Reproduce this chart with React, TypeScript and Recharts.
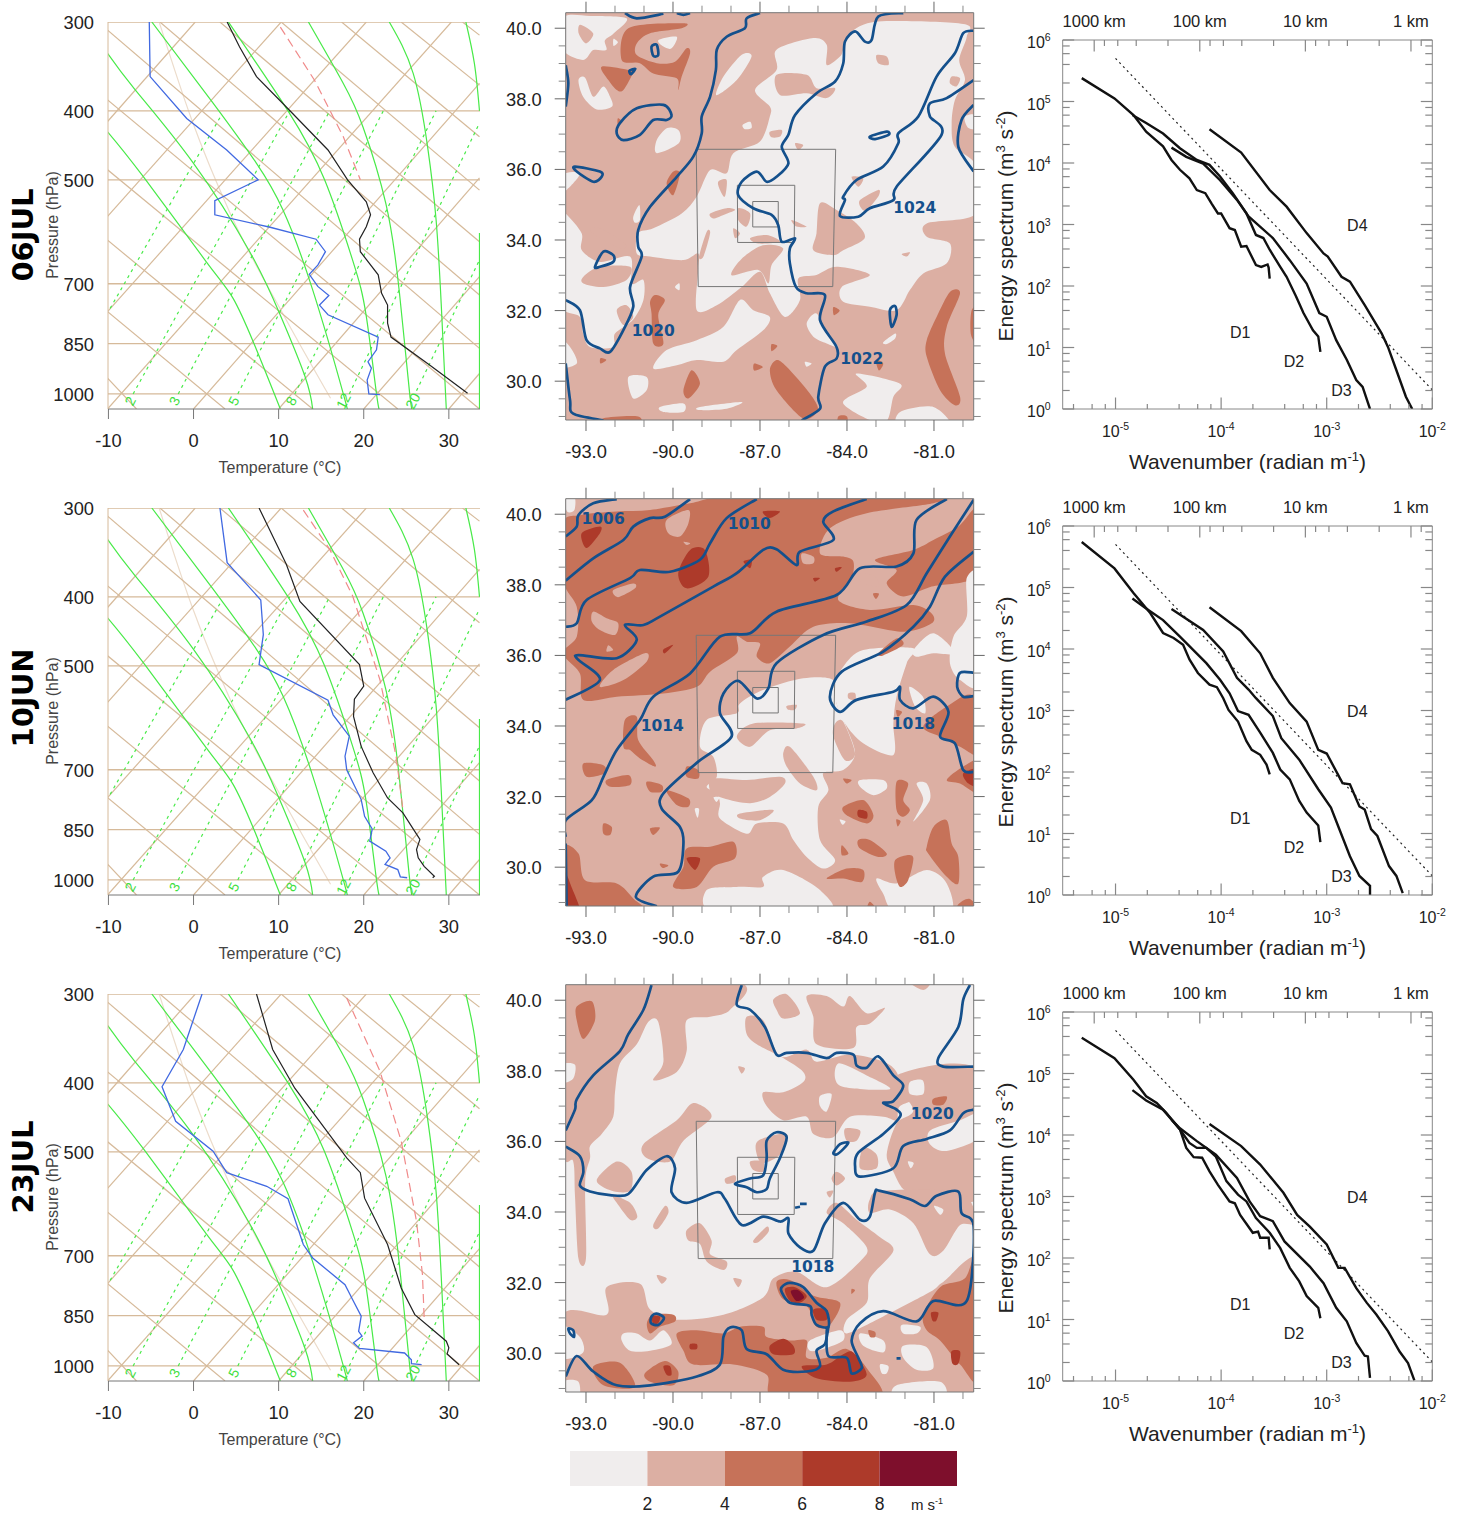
import React from 'react';
import { ComposedChart, Bar, Line, XAxis, YAxis, ReferenceDot } from 'recharts';

// ---------- sounding panels: flat [temperature, pressure, ...] lists ----------
const pressureLevels = [300, 400, 500, 700, 850, 1000];
const tempTicks = [-10, 0, 10, 20, 30];

const isotherms = [
  [-10.1, 414, 0.2, 300], [-10.1, 563, 10.3, 300], [-10.1, 766, 20.3, 300], [-10.1, 1050, 30.3, 300],
  [0, 1050, 33.6, 366], [10, 1050, 33.6, 497], [20, 1050, 33.6, 684], [30, 1050, 33.6, 936],
];
const dryAdiabats = [
  [-10.1, 950, -6.7, 1050], [-10.1, 766, 3.7, 1050], [-10.1, 608, 14, 1050], [-10.1, 484, 24, 1050],
  [-10.1, 386, 33.6, 1050], [-10.1, 308, 33.6, 863], [-3.95, 300, 33.6, 726], [3.1, 300, 33.6, 611],
  [10.3, 300, 33.6, 517], [17.4, 300, 33.6, 435], [24.4, 300, 33.6, 368], [31.6, 300, 33.6, 313],
];
const moistAdiabats = [
  [-10.1, 428, -5.9, 495, 1.5, 652, 4.65, 734, 7, 844, 10.2, 1050],
  [-10.1, 332, -6.9, 373, 0, 474, 6.6, 631, 10.1, 770, 13.1, 945, 14, 1050],
  [-4.9, 300, 2.3, 390, 7.4, 474, 10.5, 551, 14, 714, 17.6, 1000, 18, 1050],
  [4.1, 300, 11.1, 400, 15.4, 500, 18.7, 649, 20.3, 778, 21.5, 1000, 21.9, 1050],
  [13.5, 300, 17.6, 366, 19.9, 421, 22.6, 540, 24.2, 722, 25.4, 1000, 25.8, 1050],
  [23, 300, 25.8, 354, 27.5, 449, 28.5, 569, 29.1, 746, 29.7, 1050],
  [32, 300, 33, 343, 33.6, 400],
  [33.6, 594, 33.6, 1050],
];
const mixingRatios = [
  [-9.8, 758, 3.3, 405], [-7.1, 1000, 11.3, 400], [-1.8, 1000, 16, 400], [5.2, 1000, 22.3, 400],
  [11.9, 1000, 28.5, 400], [18.3, 1000, 33.6, 416], [26.2, 990, 33.6, 648],
];
const faintLine = [-4, 301, -0.2, 412, 4.3, 557, 10.9, 787, 16.1, 1014];
const mixingLabels = [['2', -7.3], ['3', -2.1], ['5', 4.85], ['8', 11.6], ['12', 17.75], ['20', 25.9]];

const jul06Temp = [3.95, 300, 5.4, 325, 7.4, 358, 10.9, 395, 15.8, 454, 18.1, 500, 20.3, 537, 20.8, 560, 20.3, 582, 19.5, 606, 19.6, 631, 21.7, 680, 22.1, 722, 22.8, 750, 22.8, 795, 23.1, 822, 23.2, 832, 27.7, 910, 32.2, 998];
const jul06Dew = [-5.2, 300, -5.1, 358, -0.8, 410, 3.9, 454, 7.6, 500, 2.5, 535, 2.5, 560, 9, 583, 14.4, 606, 15.5, 631, 14.6, 659, 13.6, 679, 14.6, 706, 15.9, 727, 14.8, 750, 15.8, 774, 21.7, 832, 21.5, 867, 20.5, 901, 20.9, 920, 20.4, 956, 20.6, 1000, 21.9, 1002];
const jul06Parcel = [10.2, 305, 14.2, 362, 17.6, 435, 19.6, 500];

const jun10Temp = [7.7, 300, 10.9, 360, 12.5, 406, 19.5, 498, 20, 534, 18.9, 557, 18.8, 589, 19.7, 649, 21.1, 707, 22.8, 767, 24.6, 805, 26.6, 877, 26.2, 906, 26.4, 931, 27.1, 957, 28.3, 988, 28.1, 993];
const jun10Dew = [3.1, 300, 3.95, 358, 7.9, 404, 8.2, 452, 7.7, 498, 15.8, 559, 16.4, 586, 18.3, 628, 17.8, 670, 18, 700, 19.7, 771, 20.1, 814, 21, 848, 20.7, 882, 22.6, 911, 23.1, 931, 22.5, 951, 24, 967, 24.3, 990, 25.1, 993];
const jun10Parcel = [12.9, 302, 16, 343, 18.7, 399, 21.9, 523, 23.8, 670, 24.6, 796];

const jul23Temp = [7.4, 300, 9.3, 359, 11.9, 407, 18, 510, 19.6, 535, 20.1, 581, 22.8, 675, 24.4, 777, 26, 847, 29.7, 923, 30, 943, 29.8, 962, 31.2, 996];
const jul23Dew = [1, 300, -1.2, 359, -3.7, 405, -2.1, 453, 2.3, 499, 3.9, 535, 8.6, 559, 11.1, 582, 12.9, 675, 14, 705, 17.8, 769, 18.7, 807, 19.7, 851, 19.4, 894, 19.8, 908, 18.8, 928, 19.5, 945, 24.8, 959, 25.6, 980, 25.6, 993, 26.8, 996];
const jul23Parcel = [18, 304, 18.9, 321, 21.9, 385, 24.4, 483, 26.2, 626, 26.9, 744, 27.1, 856];

// ---------- map panels: flat [deg west, deg north, ...] lists ----------
const lonTicks = [-93, -92, -91, -90, -89, -88, -87, -86, -85, -84, -83, -82, -81, -80];
const lonMajor = [-93, -90, -87, -84, -81];
const latTicks = [29, 29.5, 30, 30.5, 31, 31.5, 32, 32.5, 33, 33.5, 34, 34.5, 35, 35.5, 36, 36.5, 37, 37.5, 38, 38.5, 39, 39.5, 40];
const latMajor = [30, 32, 34, 36, 38, 40];
const mapExtent = [94, 41, 79, 41, 79, 28, 94, 28];
const nestBoxes = [
  [89.2, 36.57, 84.39, 36.57, 84.49, 32.68, 89.13, 32.68],
  [87.78, 35.55, 85.8, 35.55, 85.82, 33.93, 87.77, 33.93],
  [87.25, 35.09, 86.37, 35.09, 86.37, 34.37, 87.25, 34.37],
];
const WHITE = '#f0eded';
const PINK = '#dcafa3';
const MID = '#c67259';
const STRONG = '#ad3a2a';
const TOP = '#7e0f2c';

const jul06White = [
  [84.13, 39.39, 83.9, 39.86, 82.92, 40.19, 79.99, 40.12, 79.87, 39.76, 80.13, 39.1, 79.93, 38.53, 80.28, 37.96, 80.39, 37.3, 80.28, 36.64, 79.53, 36.08, 79.53, 34.75, 81.25, 34.47, 81.25, 34.09, 80.45, 33.9, 80.56, 33.34, 81.37, 33.05, 81.83, 32.58, 82.29, 32.01, 83.21, 32.11, 84.13, 32.25, 84.18, 32.67, 83.21, 33.01, 84.36, 33.24, 85.05, 33.01, 85.68, 32.91, 85.62, 32.3, 86.14, 31.82, 86.66, 32.49, 87, 33.1, 87.63, 32.67, 88.49, 32.15, 89.18, 32.01, 89.13, 33.15, 89.13, 33.62, 89.64, 33.43, 90.79, 33.53, 91.25, 33.62, 91.2, 34.19, 90.68, 34.33, 89.7, 34.75, 89.18, 35.23, 88.72, 35.98, 88.15, 35.89, 87.92, 36.46, 87, 36.79, 86.66, 37.5, 86.66, 37.78, 87.17, 38.25, 86.43, 38.82, 86.43, 39.39, 85.16, 39.72, 84.7, 39.53, 84.7, 38.96, 84.24, 39.2],
  [93.7, 34.75, 93.15, 34.19, 93.15, 33.72, 92.52, 33.38, 91.48, 33.53, 91.43, 32.77, 91.02, 32.87, 91.02, 32.3, 91.37, 31.75, 92, 31.35, 92.06, 30.97, 92.86, 30.97, 93.1, 31.35, 93.21, 31.82, 94, 32.3, 94, 34.9],
  [93.8, 40.3, 92.85, 40.35, 91.6, 40.28, 92.05, 39.85, 92.35, 39.65, 92.3, 39.38, 92.75, 39.38, 93.1, 39.1, 93.8, 39.4],
  [92.05, 39.7, 91.9, 39.6, 92.05, 39.5],
  [90.5, 39.67, 89.87, 39.76, 90.05, 39.43, 90.33, 39.48],
  [93.26, 38.53, 93.03, 38.6, 92.75, 38.06, 92.4, 38.35, 92.17, 38.06, 92.1, 37.78, 92.63, 37.7, 93.1, 38.06],
  [87.63, 39.25, 87.29, 39.2, 87.8, 38.53, 88.5, 38.1, 88.26, 38.63],
  [90.2, 37.17, 89.8, 37.1, 89.8, 36.74, 90.56, 36.46, 90.56, 36.83],
  [87.6, 37.26, 87.34, 37.35, 87.29, 37.17, 87.52, 37.14],
  [93.8, 35.85, 93.2, 35.88, 93.8, 35.35],
  [79.93, 37.5, 79.4, 37.55, 79.4, 37.17, 79.81, 37.17],
  [91.37, 34.66, 91.16, 34.99, 91.14, 34.57, 91.31, 34.49],
  [89.93, 32.67, 89.78, 32.77, 89.78, 32.58],
  [94, 31.25, 93.55, 30.97, 93.32, 30.5, 94, 30.41],
  [90.68, 30.36, 90.22, 30.88, 89.18, 31.16, 88.26, 31.54, 87.69, 32.3, 87.23, 32.01, 86.66, 31.82, 86.89, 31.44, 87.8, 30.88, 88.26, 30.55, 89.18, 30.6, 89.87, 30.45],
  [85.05, 31.92, 84.7, 31.35, 84.3, 30.97, 84.7, 31.07, 85.16, 31.26, 85.39, 31.64],
  [82.75, 31.1, 82.34, 31.35, 82.34, 31.21, 82.63, 31.05],
  [83.67, 30.22, 82.17, 29.93, 82.4, 29.56, 82.75, 28.8, 84.13, 29.37, 83.32, 29.84],
  [82.17, 29.13, 81.02, 29.27, 80.45, 28.7, 82.17, 28.7],
  [91.54, 30.12, 90.91, 30.12, 90.91, 29.74, 91.37, 29.51],
  [90.45, 29.27, 89.64, 29.37, 89.64, 29.13, 90.33, 29.13],
  [89.07, 29.27, 87.63, 29.41, 88.15, 29.22, 89.07, 29.18],
  [85.45, 30.55, 85.22, 30.5, 85.39, 30.41],
];
const jul06Pink = [
  [93.2, 40.1, 92.75, 39.85, 93, 39.57, 93.25, 39.85],
  [86.43, 38.68, 85.39, 38.68, 85.05, 38.3, 84.41, 38.3, 84.7, 38.02, 85.39, 38.16, 86.31, 38.11],
  [84.93, 35.04, 84.36, 34.85, 83.67, 34.47, 83.39, 34.05, 84.13, 33.71, 84.47, 33.57, 85.16, 33.71, 85.05, 34.19],
  [82.98, 39.24, 82.63, 39.2, 82.57, 38.96, 82.92, 39.01],
  [80.39, 38.63, 80.1, 38.58, 80.22, 38.35, 80.45, 38.44],
  [83.84, 35.79, 83.44, 35.75, 83.61, 35.51],
  [83.55, 35.13, 82.92, 35.42, 82.92, 35.23, 83.32, 34.85, 83.5, 34.89],
  [82.11, 33.6, 81.83, 33.65, 81.94, 33.53],
  [86.66, 37.07, 86.25, 37.12, 86.31, 36.93, 86.6, 36.91],
  [85.79, 36.74, 85.51, 36.69, 85.68, 36.55],
  [88.72, 34.75, 88.15, 34.9, 87.86, 34.85, 88.26, 34.71, 88.61, 34.61],
  [88.44, 35.65, 88.15, 35.7, 88.21, 35.23, 88.38, 35.42],
  [87.92, 34.33, 87.69, 34.19, 87.86, 34.05],
  [87.34, 34.05, 86.77, 34.14, 86.31, 33.95, 87.06, 33.9],
  [85.91, 34.57, 85.39, 34.38, 85.74, 34.38],
  [88.84, 34.23, 88.72, 34.19, 88.95, 33.53, 89.1, 33.53],
  [87.75, 34.9, 87.34, 34.75, 87.46, 34.38, 87.75, 34.57],
  [87.98, 33, 87.63, 33.47, 86.9, 33.85, 86.2, 33.76, 86.6, 33.29, 86.71, 32.77, 87.06, 33.15],
  [92.86, 34.28, 92.52, 34.33, 91.66, 33.9, 91.77, 33.76, 92.52, 34.05],
  [93.09, 32.96, 92.52, 33.24, 91.48, 33.24, 91.6, 32.87, 92.4, 32.67, 93.09, 32.77],
  [91.94, 32.01, 91.6, 32.15, 91.37, 31.82, 91.71, 31.59],
];
const jul06Mid = [
  [91.54, 40, 89.64, 40.14, 89.7, 40, 90.79, 39.86, 91.25, 39.57, 91.25, 39.24, 90.56, 39.01, 89.93, 39.05, 89.53, 39.43, 89.41, 39.29, 89.7, 38.63, 89.82, 38.25, 89.87, 38.58, 90.68, 38.72, 91.14, 39.01, 91.77, 39.1],
  [92.46, 38.91, 91.54, 38.82, 91.37, 38.77, 91.71, 38.25, 91.94, 38.25, 92.23, 38.53],
  [80.45, 32.53, 80.1, 32.49, 80.56, 31.54, 80.62, 30.78, 80.1, 29.56, 80.28, 29.32, 80.79, 29.74, 81.25, 30.69, 81.25, 31.16, 80.91, 31.82],
  [86.43, 30.6, 86.08, 30.41, 85.28, 29.65, 85, 29.18, 85.51, 28.94, 86.43, 29.74, 86.66, 30.31],
  [90.62, 32.44, 90.28, 32.3, 90.51, 31.87, 90.33, 31.07, 90.68, 31.07, 90.74, 31.92, 90.79, 32.25],
  [89.36, 30.31, 89.07, 29.93, 89.47, 29.51, 89.64, 29.74],
  [79.7, 32.01, 79.4, 32.05, 79.4, 31, 79.72, 31.3],
  [89.99, 35.94, 89.76, 35.89, 89.99, 35.27, 90.22, 35.6],
  [84.47, 32.1, 84.25, 32, 84.45, 31.87],
  [86.6, 31.05, 86.4, 31, 86.6, 30.85],
  [87.2, 30.5, 86.9, 30.4, 87.2, 30.3],
  [83, 30.6, 82.75, 30.5, 82.9, 30.3],
  [92.5, 30.65, 92.3, 30.6, 92.5, 30.5],
  [84.3, 29, 84, 29, 84, 28.7, 84.3, 28.7],
  [91.9, 37.45, 91.75, 37.35, 91.9, 37.25],
  [92.4, 28.95, 91.2, 29, 91.2, 28.7, 92.4, 28.7],
];
const jul06Lines = [
  [87, 40.43, 87.46, 40.28, 87.52, 40, 88.15, 39.76, 88.49, 39.39, 88.52, 38.82, 88.72, 38.06, 89.01, 37.5, 89.01, 37.02, 89.3, 36.36, 89.87, 35.79, 90.79, 34.94, 91.2, 34.28, 91.2, 33.81, 91.08, 33.53, 91.48, 32.67, 91.37, 32.11, 91.71, 31.45, 92.17, 30.83, 92.52, 30.93, 92.98, 31.16, 93.21, 32.01, 93.7, 32.3],
  [93.7, 38.95, 93.61, 38.44, 93.7, 37.78],
  [91.66, 40.43, 91.25, 40.28, 90.33, 40.41],
  [89.87, 40.43, 89.64, 40.38, 89.41, 40.43],
  [82.06, 40.43, 82.92, 40.33, 83.15, 39.67, 83.38, 39.62, 83.72, 39.91, 84.07, 39.62, 84.13, 39, 84.41, 38.49, 85.05, 38.16, 85.79, 37.54, 86.02, 36.98, 86.25, 36.64, 86.02, 36.17, 86.43, 35.79, 86.77, 35.65, 87.11, 35.94, 87.63, 35.65, 87.75, 35.27, 87.23, 34.9, 86.6, 34.71, 86.37, 34.42, 86.25, 33.95, 85.79, 34.05, 85.97, 33.76, 85.97, 33.34, 85.76, 32.67, 85.39, 32.49, 84.76, 32.44, 84.93, 31.73, 84.36, 30.97, 84.36, 30.64, 84.76, 30.41, 84.99, 29.56, 84.93, 29.22, 85.56, 28.89],
  [93.7, 30.5, 93.55, 29.46, 93.44, 29.08, 92.4, 28.89],
  [79.63, 38.53, 80.56, 38.02, 81.14, 37.87, 81.14, 37.5, 80.74, 36.98, 82.29, 35.51, 82.4, 35.13, 83.21, 34.9, 83.61, 34.66, 84.24, 34.68, 84.07, 35.13, 84.13, 35.23, 83.67, 35.7, 82.75, 36.08, 82.23, 36.74, 82.23, 37.02, 81.54, 37.5, 80.91, 38.63, 80.28, 39.29, 79.99, 39.86, 79.63, 39.93],
  [79.63, 37.83, 80.05, 37.4, 80.16, 36.64, 79.63, 35.94],
];
const jul06Loops = [
  [91.94, 37.02, 91.83, 37.31, 91.25, 37.73, 90.33, 37.83, 90.05, 37.54, 90.22, 37.4, 90.68, 37.4, 91.14, 36.98, 91.71, 36.83],
  [93.38, 36.08, 92.52, 35.94, 92.46, 35.79, 92.75, 35.65, 93.32, 35.94],
  [92.69, 33.24, 92.4, 33.67, 92.06, 33.57, 92.06, 33.38, 92.52, 33.24],
  [90.74, 39.48, 90.56, 39.53, 90.51, 39.24, 90.68, 39.22],
  [91.5, 38.8, 91.3, 38.85, 91.45, 38.7],
  [83.21, 36.93, 82.63, 37.07, 82.57, 36.98, 83.03, 36.86],
  [82.52, 32.01, 82.34, 32.13, 82.29, 31.87, 82.46, 31.54],
];
const jul06Labels = [['1020', 90.68, 31.43], ['1022', 83.49, 30.64], ['1024', 81.66, 34.91]];

const jun10MidBand = [
  [93.8, 39.74, 93.21, 39.98, 91.94, 40.08, 90.79, 40.12, 89.41, 40.31, 87.8, 40.5, 81.02, 40.5, 81.02, 40.31, 83.32, 40.03, 84.59, 39.6, 84.93, 38.89, 84.13, 38.8, 83.78, 38.66, 83.84, 38.19, 84.3, 37.57, 83.21, 37.29, 81.71, 37.43, 81.08, 37.19, 81.08, 36.91, 82.06, 36.67, 83.9, 36.91, 85.16, 36.81, 85.97, 36.25, 86.66, 35.78, 87.11, 35.96, 87, 36.34, 87.46, 36.39, 87.8, 36.53, 87.8, 36.06, 88.72, 35.54, 89.18, 35.11, 90.33, 34.92, 91.94, 34.83, 93.09, 34.74, 93.21, 35.49, 93.8, 36.06, 93.32, 36.53, 93.32, 37.38, 93.8, 38.14],
  [83.03, 38.71, 81.71, 38.99, 81.02, 39.27, 80.16, 39.65, 79.4, 40.22, 79.4, 38.33, 81.08, 37.95, 82.06, 37.67, 82.63, 38.04, 82.29, 38.42],
  [80.56, 34.55, 79.63, 34.83, 79.4, 33.22, 80.1, 33.41, 80.79, 33.7, 81.37, 33.98],
  [80.56, 32.47, 79.99, 32.85, 79.4, 33.03, 79.4, 32.09, 80.1, 32.37],
];
const jun10PinkOnMid = [
  [92.75, 37.24, 92.29, 37.05, 91.89, 36.91, 92, 36.58, 92.52, 36.72, 92.8, 36.96],
  [92.06, 37.85, 91.37, 38.04, 91.31, 37.9, 91.89, 37.65],
  [90.22, 39.84, 89.47, 40.12, 89.47, 39.74, 89.76, 39.37, 90.16, 39.46],
  [92.52, 35.11, 92.06, 35.59, 90.97, 36.06, 90.91, 35.82, 91.71, 35.3],
  [89.64, 39.22, 89.41, 39.18, 89.53, 39.13],
  [85.56, 38.89, 85.16, 38.8, 85.16, 38.61, 85.51, 38.61],
  [83.55, 38.33, 83.03, 38.23, 82.92, 37.95, 83.55, 38.09],
  [92.23, 36.29, 92.06, 36.15, 92.29, 36.11],
];
const jun10White = [
  [93.8, 40.5, 93.4, 40.5, 93.4, 40.12, 93.65, 40.08],
  [80.33, 36.53, 79.87, 37.1, 79.87, 38.19, 79.4, 38.19, 79.4, 35.26, 80.1, 35.3, 80.45, 35.78],
  [81.71, 36.15, 81.02, 36.63, 80.27, 36.06, 81.02, 36.06, 81.6, 35.96],
  [81.85, 35.11, 81.38, 34.83, 81.3, 34.36, 81.65, 34.55],
  [84.36, 34.64, 84.47, 35.11, 84.13, 35.68, 83.44, 36.15, 81.71, 36.2, 81.94, 35.78, 82.29, 34.83, 82.4, 34.07, 82.4, 33.18, 83.44, 33.51, 84.07, 34.07],
  [89.07, 33.41, 88.84, 34.17, 87.8, 34.36, 87.69, 34.64, 86.9, 35.02, 85.51, 35.35, 84.47, 35.3, 84.36, 34.64, 84.07, 34.07, 83.72, 33.22, 84.13, 32.75, 84.82, 32.66, 84.64, 32.18, 84.99, 31.71, 84.93, 30.77, 84.41, 30.2, 84.82, 29.96, 85.39, 30.29, 85.85, 30.77, 86.2, 31.24, 87.11, 31.24, 87.46, 30.95, 88.38, 31.38, 88.38, 31.81, 88.49, 32.09, 88.84, 32.28, 88.49, 32.56, 88.61, 33.13],
  [86.9, 29.72, 86.2, 29.92, 84.93, 29.35, 84.7, 28.7, 88.55, 28.7, 88.84, 29.35, 87.8, 29.44, 86.9, 29.44],
  [82.98, 29.68, 82.29, 29.54, 81.25, 29.92, 80.56, 29.54, 80.45, 28.7, 82.29, 28.7, 82.75, 29.25],
  [83.55, 32.47, 82.75, 32.47, 82.63, 32.23, 83.09, 32.04, 83.55, 32.28],
  [81.6, 32.37, 81.25, 32.37, 81.14, 31.9, 81.71, 31.29, 81.37, 31.9],
  [88.6, 31.98, 88.4, 31.98, 88.5, 31.85],
  [89.25, 31.65, 89.1, 31.65, 89.15, 31.4],
  [84.25, 31.35, 84.05, 31.3, 84.15, 31.2],
];
const jun10PinkOnWhite = [
  [87.8, 33.7, 87.23, 34.07, 85.51, 34.07, 85.74, 33.93, 86.66, 33.88, 87.34, 33.41],
  [86.2, 33.22, 85.97, 33.41, 85.16, 32.56, 85.05, 32.18, 85.62, 32.37, 86.08, 32.85],
  [88.61, 32.51, 87.46, 32.47, 86.31, 32.56, 86.14, 32.37, 86.66, 31.99, 87.34, 31.81, 88.26, 31.95, 88.72, 32.18],
  [87.69, 31.52, 86.54, 31.62, 87, 31.33, 87.69, 31.38],
  [84.41, 34.07, 84.13, 34.12, 83.72, 33.22, 84.07, 33.03, 84.47, 33.7],
  [83.95, 34.93, 83.72, 34.93, 83.72, 34.74, 83.95, 34.78],
  [86.08, 34.57, 85.74, 34.6, 85.8, 34.46, 86.02, 34.46],
];
const jun10Mid = [
  [93.09, 32.94, 92.4, 32.89, 92.34, 32.66, 92.98, 32.56],
  [92.29, 32.47, 91.54, 32.61, 91.48, 32.33, 92.17, 32.28],
  [90.91, 32.42, 90.39, 32.33, 90.39, 32.14, 90.79, 32.14],
  [90.22, 32.18, 89.47, 31.95, 89.47, 31.71, 89.87, 31.76],
  [92.4, 31.24, 92.11, 31.14, 92.17, 30.91, 92.4, 30.95],
  [90.79, 31.1, 90.45, 31.12, 90.68, 30.91],
  [91.66, 34.17, 91.25, 34.26, 91.2, 33.6, 90.68, 33.03, 90.62, 32.85, 91.14, 33.08, 91.48, 33.32, 91.71, 33.41],
  [89.53, 32.85, 89.13, 32.75, 89.13, 32.51, 89.53, 32.56],
  [89.53, 30.53, 88.72, 30.58, 87.92, 30.72, 87.86, 30.25, 88.61, 30.01, 89.18, 29.44, 89.99, 29.44, 89.64, 30.01],
  [93.8, 30.53, 93.26, 30.39, 93.03, 29.63, 91.94, 29.54, 91.37, 29.11, 91.02, 28.7, 93.8, 28.7],
  [84.13, 31.71, 83.44, 31.9, 83.09, 31.47, 83.32, 31.24, 84.01, 31.47],
  [82.29, 32.42, 81.89, 32.37, 82.06, 31.9, 81.83, 31.62, 82.06, 31.43, 82.29, 31.62],
  [81.25, 30.58, 81.02, 31.14, 80.56, 31.33, 80.39, 30.67, 80.16, 30.29, 80.16, 29.54, 80.56, 29.73, 81.2, 30.39],
  [83.61, 30.77, 83.21, 30.77, 82.63, 30.39, 82.92, 30.29, 83.55, 30.53],
  [82.34, 30.2, 81.94, 30.34, 81.71, 30.25, 81.89, 29.63, 82.17, 29.44, 82.34, 29.82],
  [84.7, 29.68, 84.01, 29.96, 83.44, 29.92, 83.49, 29.58, 84.13, 29.68],
  [84.18, 30.62, 83.95, 30.39, 84.18, 30.34],
  [82.3, 31.35, 82.15, 31.3, 82.25, 31.15],
  [84.13, 32.51, 83.84, 32.47, 84.01, 32.37],
  [80.16, 28.95, 79.76, 29.1, 79.4, 28.7, 80.16, 28.7],
  [83.32, 28.7, 83.21, 29.02, 82.92, 28.7],
  [90.45, 30.1, 90.16, 30.05, 90.35, 29.98],
  [82.92, 36.06, 82.29, 36.48, 82.06, 36.3, 82.75, 36],
  [82.3, 34.45, 82.1, 34.4, 82.25, 34.26],
  [83.1, 37.75, 82.9, 37.75, 83, 37.6],
];
const jun10Strong = [
  [93.15, 39.46, 92.52, 39.65, 92.52, 39.46, 92.98, 39.04],
  [89.82, 38.33, 89.41, 38.99, 88.9, 38.99, 88.78, 38.23, 89.53, 37.9],
  [87.57, 38.66, 87.29, 38.71, 87.34, 38.47],
  [86.9, 40.08, 86.31, 40.08, 86.66, 39.89],
  [85.16, 38.19, 84.93, 38.19, 85.1, 38.09],
  [84.41, 38.47, 84.18, 38.5, 84.36, 38.37],
  [90.33, 36.17, 89.99, 36.3, 90.28, 36.06],
  [89.53, 30.25, 89.07, 30.25, 89.24, 29.92],
  [93.8, 29.92, 93.5, 29.44, 93.2, 28.7, 93.8, 28.7],
  [79.99, 32.66, 79.4, 32.8, 79.4, 32.28, 79.81, 32.37],
  [83.61, 31.62, 83.32, 31.57, 83.32, 31.38, 83.61, 31.43],
];
const jun10Lines = [
  [93.7, 39.37, 93.32, 39.65, 93.26, 39.98, 92.75, 40.31, 91.94, 40.43],
  [93.7, 38.12, 92.75, 38.75, 91.71, 39.27, 91.37, 39.65, 90.79, 39.89, 90.28, 39.93, 89.41, 40.43],
  [93.7, 36.81, 93.32, 36.91, 92.98, 37.57, 91.48, 38.19, 91.14, 38.42, 90.1, 38.37, 89.07, 38.71, 88.72, 39.18, 88.15, 39.89, 87.11, 40.43],
  [93.7, 34.74, 92.52, 35.3, 93.26, 35.87, 93.26, 36.01, 91.94, 35.92, 91.25, 36.44, 91.66, 36.86, 91.02, 36.86, 90.45, 37.1, 88.61, 37.95, 87.8, 38.33, 86.89, 38.99, 86.43, 39.01, 85.74, 38.56, 85.62, 38.94, 84.47, 39.27, 84.82, 39.79, 84.47, 40.08, 83.32, 40.43],
  [93.7, 30.86, 93.7, 31.33, 92.8, 31.9, 92.4, 32.56, 91.94, 33.32, 91.14, 34.17, 90.68, 34.83, 89.41, 35.49, 88.38, 36.53, 87.34, 36.63, 86.43, 37.24, 84.36, 37.71, 83.55, 38.47, 82.29, 38.52, 81.71, 38.89, 81.6, 39.84, 80.56, 40.43],
  [90.56, 28.89, 91.28, 29.16, 90.68, 29.73, 89.82, 29.87, 89.64, 30.67, 89.76, 31.14, 90.39, 31.66, 90.33, 32.09, 89.13, 32.99, 87.98, 33.7, 88.38, 34.36, 88.26, 34.92, 87.75, 35.28, 87.11, 34.78, 86.71, 35.07, 86.43, 35.78, 84.82, 36.58, 83.32, 36.96, 81.94, 37.43, 81.25, 38.33, 80.45, 39.37, 79.63, 40.41],
  [79.63, 32.7, 79.99, 32.75, 80.28, 33.51, 80.79, 33.7, 80.5, 34.4, 81.02, 34.83, 81.71, 34.5, 82.17, 34.74, 82.17, 35.11, 82.4, 34.97, 83.67, 34.74, 84.24, 34.4, 84.59, 34.83, 84.18, 35.54, 82.75, 36.11, 81.71, 36.81, 81.14, 37.38, 80.62, 38.23, 79.63, 38.94],
  [79.63, 35.51, 80.1, 35.51, 80.2, 35.11, 79.99, 34.83, 79.63, 34.85],
  [93.7, 30.67, 93.67, 28.89],
];
const jun10Labels = [['1006', 92.41, 39.87], ['1010', 87.37, 39.72], ['1014', 90.37, 34], ['1018', 81.71, 34.07]];

const jul23Pink = [
  [93.8, 40.51, 87.8, 40.51, 88.03, 39.73, 88.72, 39.53, 89.53, 39.43, 89.53, 38.56, 89.87, 37.97, 90.68, 37.73, 90.33, 38.26, 90.51, 39.39, 90.85, 39.39, 91.25, 38.75, 91.83, 38.21, 92, 37.39, 92.06, 36.7, 92.46, 36.21, 92.86, 35.87, 92.86, 35.53, 93.03, 34.85, 93, 32.7, 93.26, 32.68, 93.38, 34.46, 93.44, 35.43, 93.8, 35.82],
  [92.63, 34.9, 91.94, 35.43, 91.43, 35.14, 91.48, 34.6, 92.11, 34.6],
  [92.06, 34.46, 91.48, 34.26, 91.23, 33.87, 91.48, 33.78, 91.94, 34.26],
  [91.02, 35.92, 89.87, 36.6, 89.3, 37.09, 88.67, 36.7, 89.64, 36.02, 90.1, 35.43, 90.91, 35.53],
  [87.46, 39.53, 86.89, 39.43, 86.31, 38.41, 85.39, 38.6, 85.05, 38.26, 83.9, 38.46, 82.75, 38.26, 82.29, 37.97, 82.06, 37.39, 81.37, 37.29, 82.17, 37, 82.29, 36.6, 82.75, 36.7, 83.9, 36.7, 84.47, 36.12, 85.16, 36.21, 85.39, 36.7, 86.2, 36.6, 86.77, 37, 86.89, 37.39, 86.2, 37.39, 85.51, 37.68, 85.51, 37.97, 86.2, 38.36, 87.11, 38.75, 87.46, 39.04],
  [86.54, 40.02, 86.08, 40.17, 85.62, 39.63, 86.2, 39.48, 86.43, 39.73],
  [85.39, 40.12, 84.7, 40.12, 84.13, 39.82, 83.9, 40.12, 83.32, 39.63, 82.69, 39.78, 83.21, 39.34, 83.67, 39.24, 83.78, 38.65, 85.05, 38.75, 85.16, 39.53],
  [81.83, 40.51, 81.14, 40.51, 81.37, 40.29],
  [82.29, 37.87, 79.4, 37.97, 79.4, 34.46, 81.6, 34.6, 82.06, 34.65, 82.4, 35.14, 82.63, 35.63, 82.29, 36.51, 81.71, 36.9],
  [82.75, 34.6, 80.1, 34.56, 79.53, 33.68, 80.1, 33.63, 80.68, 32.9, 81.14, 32.8, 81.71, 33.68, 82.52, 34.07, 83.21, 33.97, 83.21, 34.36],
  [93.8, 28.7, 93.8, 31.09, 92.29, 31.09, 92.29, 31.87, 91.14, 31.97, 90.79, 31.24, 89.87, 30.95, 88.26, 31.09, 86.89, 31.58, 86.54, 32.12, 85.74, 32.31, 84.7, 31.87, 83.55, 32.6, 83.32, 33, 84.13, 33.68, 84.7, 33.97, 84.36, 34.26, 83.67, 33.78, 82.87, 33.29, 82.4, 32.9, 83.21, 32.12, 83.32, 31.43, 84.01, 30.95, 84.01, 30.56, 82.75, 31.04, 81.14, 31.73, 80.68, 32.02, 79.4, 32.6, 79.4, 28.7],
  [90.56, 32.21, 90.22, 32.12, 90.39, 31.97],
  [87.92, 32.12, 87.63, 32.07, 87.75, 31.87],
  [87.23, 33.19, 86.77, 33.58, 86.71, 33.43, 87.06, 33.14],
  [90.68, 33.63, 90.28, 34.17, 90.16, 33.97, 90.51, 33.53],
  [89.53, 33.48, 89.07, 33.68, 88.67, 33.19, 88.72, 32.8, 88.15, 32.6, 88.26, 32.36, 88.84, 32.6, 89.07, 33.09, 89.47, 33.19],
  [84.36, 35.14, 84.07, 34.95, 84.36, 34.75, 84.53, 34.95],
  [88.2, 34.95, 87.86, 35.04, 87.86, 34.85, 88.15, 34.8],
  [84.7, 34.56, 84.47, 34.6, 84.59, 34.41],
  [87.34, 35.43, 86.89, 35.43, 86.89, 35.14, 87.23, 35.19],
  [87.06, 36.02, 86.08, 36.21, 86.31, 35.63, 86.89, 35.39, 87.11, 35.63],
  [87.75, 38.12, 87.52, 38.07, 87.63, 37.92],
  [83.44, 35.82, 82.98, 35.63, 82.98, 35.24, 83.55, 35.24],
  [84.07, 36.36, 83.55, 36.31, 83.67, 36.02, 84.01, 36.02],
];
const jul23White = [
  [93.8, 38.17, 93.38, 38.17, 93.44, 37.78, 93.8, 37.68],
  [84.93, 37.29, 84.53, 37.34, 84.7, 36.85, 84.93, 37],
  [84.3, 38.21, 83.32, 37.87, 82.52, 37.48, 84.24, 37.58],
  [81.13, 36.31, 80.1, 36.6, 79.4, 36.8, 79.4, 36.12, 80.56, 35.73, 81.14, 35.92],
  [81.83, 37.68, 81.39, 37.73, 81.37, 37.34, 81.83, 37.34],
  [81.9, 35.43, 81.7, 35.39, 81.8, 35.24],
  [81, 34.17, 80.68, 34.07, 80.79, 33.92],
  [91.71, 30.56, 91.25, 30.56, 90.79, 30.36, 90.33, 30.65, 90.05, 30.26, 90.79, 30.07, 91.48, 30.07, 91.77, 30.36],
  [93.8, 29.19, 93.26, 29.19, 93.26, 28.7, 93.8, 28.7],
  [82.29, 29.09, 80.79, 29.19, 80.68, 28.7, 82.29, 28.7],
  [82.06, 30.21, 81.25, 30.17, 81.02, 29.58, 81.6, 29.53, 82.06, 29.87],
  [85.28, 30.36, 84.24, 30.65, 84.13, 30.36, 84.82, 30.12, 85.28, 30.07],
  [82.11, 30.8, 81.48, 30.75, 81.6, 30.56, 82.06, 30.56],
  [82.86, 29.68, 82.57, 29.63, 82.63, 29.43, 82.8, 29.43],
  [93.8, 30.75, 93.21, 30.46, 93.1, 30.02, 93.8, 29.87],
  [83.55, 30.56, 82.75, 30.36, 82.75, 30.02, 83.44, 30.21],
];
const jul23Mid = [
  [93.32, 39.82, 92.8, 39.97, 92.69, 39.43, 93.09, 38.9, 93.32, 39.43],
  [89.87, 30.56, 89.18, 30.65, 88.26, 30.56, 87.69, 30.75, 86.89, 30.75, 86.77, 30.46, 85.97, 30.36, 85.39, 30.36, 85.39, 29.87, 84.7, 29.87, 84.01, 30.12, 83.32, 29.58, 82.92, 28.7, 86.43, 28.7, 86.77, 29.39, 87.92, 29.68, 89.3, 29.68, 89.64, 30.07],
  [92.75, 29.63, 91.83, 29.73, 91.31, 29.04, 92.4, 29.09],
  [90.97, 29.43, 90.28, 29.78, 89.82, 29.48, 89.99, 29.09, 90.79, 29.19],
  [90.9, 30.85, 90.68, 31.09, 89.99, 31.09, 89.93, 30.9, 90.45, 30.75, 90.79, 30.56],
  [86.43, 32.02, 85.97, 32.07, 85.16, 31.63, 84.24, 31.43, 84.59, 30.8, 85.05, 30.75, 85.39, 31.34, 86.2, 31.53],
  [81.37, 31.09, 80.79, 31.87, 79.93, 32.12, 79.45, 32.9, 79.4, 29.29, 80.1, 29.68, 80.79, 30.36, 81.25, 30.65],
  [83.26, 30.65, 83.03, 30.6, 83.03, 30.46, 83.2, 30.46],
  [81.02, 37.21, 80.56, 37.27, 80.68, 37.04, 81.02, 37.04],
  [83.84, 31.82, 83.72, 31.78, 83.84, 31.68],
];
const jul23Strong = [
  [86.66, 30.21, 86.2, 30.41, 85.85, 30.21, 85.85, 29.97, 86.54, 29.97],
  [85.56, 29.63, 84.7, 29.68, 84.13, 29.97, 83.78, 30.02, 83.32, 29.39, 83.9, 29.19, 85.05, 29.29],
  [89.41, 30.26, 89.18, 30.26, 89.18, 30.12, 89.41, 30.12],
  [90.33, 29.63, 90.1, 29.63, 90.05, 29.39, 90.22, 29.39],
  [86.14, 31.82, 85.79, 31.87, 85.39, 31.63, 85.62, 31.43, 85.97, 31.48],
  [85.16, 31.24, 84.7, 31.24, 84.7, 30.95, 85.05, 30.95],
  [90.74, 31.04, 90.45, 31.04, 90.51, 30.85, 90.68, 30.85],
  [81.1, 31.15, 80.85, 31.15, 80.92, 30.92, 81.05, 30.92],
  [80.4, 30.05, 80.1, 30.05, 80.16, 29.7, 80.36, 29.7],
];
const jul23Top = [[85.94, 31.75, 85.68, 31.78, 85.48, 31.58, 85.74, 31.48]];
const jul23Lines = [
  [93.7, 36.31, 93.38, 36.9, 93.32, 37.19, 92.75, 37.87, 91.83, 38.56, 91.54, 39.04, 91.02, 39.73, 90.74, 40.43],
  [87.63, 40.43, 87.8, 39.87, 87.34, 39.73, 86.83, 39.24, 86.43, 38.46, 86.08, 38.51, 85.39, 38.51, 84.7, 38.36, 84.36, 38.51, 83.78, 38.46, 83.67, 38.15, 83.32, 38.09, 82.92, 38.41, 82.4, 37.87, 82.06, 37.58, 82.4, 37.14, 82.75, 37.09, 82.29, 36.9, 82.17, 36.7, 82.75, 36.21, 83.61, 35.68, 83.72, 35.29, 83.55, 35, 82.4, 35.24, 82.06, 35.87, 81.25, 36.07, 80.45, 36.31, 79.99, 36.8, 79.63, 36.9],
  [79.76, 40.43, 79.99, 40.02, 80.16, 39.24, 80.85, 38.36, 80.68, 38.12, 79.63, 38.12],
  [93.7, 35.85, 93.21, 35.58, 93.09, 35.14, 93.21, 34.75, 92.86, 34.58, 92.17, 34.48, 91.54, 34.51, 90.91, 35.19, 90.22, 35.58, 89.93, 35.24, 90.05, 34.56, 89.53, 34.26, 88.49, 34.56, 88.2, 34.36, 87.63, 33.63, 86.89, 33.87, 86.31, 33.73, 86.02, 33.82, 86.02, 33.39, 85.62, 33, 85.16, 32.9, 84.76, 33.68, 84.13, 34.26, 83.55, 33.78, 83.21, 33.87, 83.03, 34.56, 82.86, 34.6, 81.83, 34.36, 81.31, 34.17, 80.91, 34.46, 80.16, 34.58, 80.05, 33.97, 79.63, 33.58, 79.87, 31.48, 81.02, 31.48, 81.6, 30.9, 82.75, 31.19, 83.55, 30.85, 83.84, 30.36, 83.61, 29.87, 83.49, 29.58, 83.84, 29.43, 84.01, 29.87, 84.64, 29.92, 84.7, 30.56, 84.67, 30.75],
  [84.64, 30.75, 84.76, 30.26, 85.05, 30.07, 84.93, 29.63, 85.39, 29.48, 86.2, 29.53, 86.77, 29.97, 87.46, 30.12, 87.63, 30.65, 88.03, 30.73, 88.26, 30.46, 88.38, 29.68, 89.18, 29.34, 90.79, 29.09, 91.94, 29.09, 92.75, 29.48, 93.32, 29.92, 93.7, 29.34],
  [85.79, 34.12, 85.62, 34.15],
  [85.62, 34.23, 85.39, 34.23],
  [82.29, 29.85, 82.15, 29.85],
];
const jul23Loops = [
  [86.25, 31.87, 85.97, 31.99, 85.51, 31.87, 85.05, 31.43, 84.7, 31.19, 84.64, 30.75, 85.05, 30.8, 85.22, 31.09, 85.28, 31.34, 85.97, 31.43, 86.25, 31.73],
  [87.86, 34.8, 87.34, 34.95, 86.89, 35.04, 86.77, 35.53, 86.77, 36.02, 86.43, 36.26, 86.08, 36.12, 86.31, 35.53, 86.66, 34.95, 86.77, 34.65, 87.11, 34.56, 87.46, 34.7],
  [84.47, 35.68, 84.24, 35.92, 83.95, 35.97, 84.13, 35.78, 84.36, 35.63],
  [90.74, 31.04, 90.56, 31.12, 90.31, 31, 90.51, 30.8, 90.76, 30.85],
  [93.61, 30.7, 93.44, 30.65, 93.41, 30.46, 93.55, 30.56],
];
const jul23Labels = [['1020', 81.06, 36.78], ['1018', 85.18, 32.43]];

// ---------- spectra: flat [log10 wavenumber, log10 energy, ...] lists ----------
const waveMajor = [1e-5, 1e-4, 1e-3, 1e-2];
const waveTicks = [4e-6, 6e-6, 8e-6, 1e-5, 2e-5, 4e-5, 6e-5, 8e-5, 1e-4, 2e-4, 4e-4, 6e-4, 8e-4, 1e-3, 2e-3, 4e-3, 6e-3, 8e-3, 1e-2];
const energyMajor = [1, 10, 100, 1000, 1e4, 1e5, 1e6];
const energyTicks = [1, 2, 4, 6, 8, 10, 20, 40, 60, 80, 100, 200, 400, 600, 800, 1000, 2000, 4000, 6000, 8000, 1e4, 2e4, 4e4, 6e4, 8e4, 1e5, 2e5, 4e5, 6e5, 8e5, 1e6];
const kmTicks = [6.28e-6, 6.28e-5, 6.28e-4, 6.28e-3];
const kmNames = ['1000 km', '100 km', '10 km', '1 km'];
const kmMinor = [7.85e-6, 1.05e-5, 1.57e-5, 3.14e-5, 7.85e-5, 1.05e-4, 1.57e-4, 3.14e-4, 7.85e-4, 1.05e-3, 1.57e-3, 3.14e-3, 7.85e-3];
const refSlope = [-5, 5.7, -2, 0.31];
const domainNames = [['D1', -3.82, 1.24], ['D2', -3.31, 0.77], ['D3', -2.86, 0.3], ['D4', -2.71, 2.98]];

const jul06Spectra = [
  [-5.32, 5.38, -5.01, 5.05, -4.83, 4.78, -4.71, 4.51, -4.55, 4.27, -4.47, 4.05, -4.39, 3.89, -4.3, 3.75, -4.23, 3.56, -4.15, 3.51, -4.09, 3.34, -4.03, 3.18, -4, 3.18, -3.92, 2.94, -3.87, 2.91, -3.81, 2.64, -3.76, 2.65, -3.67, 2.34, -3.62, 2.31, -3.56, 2.35, -3.55, 2.3, -3.54, 2.12],
  [-4.84, 4.78, -4.71, 4.65, -4.55, 4.48, -4.39, 4.24, -4.23, 4.05, -4.11, 3.97, -4.01, 3.78, -3.89, 3.51, -3.76, 3.18, -3.67, 2.83, -3.6, 2.78, -3.54, 2.59, -3.44, 2.31, -3.38, 2.15, -3.29, 1.83, -3.22, 1.56, -3.13, 1.28, -3.08, 1.18, -3.06, 0.93],
  [-4.47, 4.25, -4.33, 4.1, -4.17, 3.99, -4.01, 3.72, -3.85, 3.4, -3.74, 3.13, -3.51, 2.78, -3.35, 2.42, -3.19, 2.04, -3.07, 1.56, -3, 1.5, -2.91, 1.12, -2.81, 0.8, -2.72, 0.47, -2.66, 0.36, -2.59, 0],
  [-4.11, 4.55, -3.81, 4.17, -3.54, 3.56, -3.38, 3.29, -3.19, 2.86, -3.03, 2.53, -2.99, 2.48, -2.86, 2.15, -2.78, 2.07, -2.64, 1.69, -2.48, 1.23, -2.42, 1.01, -2.34, 0.63, -2.25, 0.2, -2.19, 0],
];
const jun10Spectra = [
  [-5.32, 5.74, -5.01, 5.31, -4.83, 4.91, -4.67, 4.58, -4.55, 4.26, -4.45, 4.18, -4.36, 4.07, -4.3, 3.83, -4.22, 3.61, -4.11, 3.42, -4.04, 3.38, -3.98, 3.2, -3.93, 3.01, -3.84, 2.82, -3.76, 2.5, -3.71, 2.36, -3.63, 2.28, -3.57, 2.12, -3.54, 1.96],
  [-4.84, 4.82, -4.71, 4.66, -4.55, 4.47, -4.39, 4.2, -4.14, 3.77, -4.01, 3.5, -3.92, 3.28, -3.84, 2.99, -3.74, 2.93, -3.63, 2.64, -3.51, 2.31, -3.44, 2.04, -3.35, 1.88, -3.26, 1.53, -3.19, 1.34, -3.08, 1.13, -3.06, 0.86],
  [-4.47, 4.65, -4.17, 4.31, -3.98, 3.96, -3.85, 3.53, -3.74, 3.34, -3.67, 3.2, -3.51, 2.91, -3.43, 2.55, -3.26, 2.2, -3.08, 1.72, -2.96, 1.42, -2.88, 1.07, -2.78, 0.63, -2.69, 0.31, -2.59, 0.15, -2.59, 0],
  [-4.11, 4.68, -3.81, 4.29, -3.63, 3.93, -3.51, 3.53, -3.35, 3.12, -3.19, 2.82, -3.08, 2.36, -3, 2.3, -2.85, 1.82, -2.78, 1.8, -2.69, 1.44, -2.64, 1.39, -2.58, 1.07, -2.52, 0.96, -2.41, 0.47, -2.34, 0.31, -2.28, 0.03],
];
const jul23Spectra = [
  [-5.32, 5.58, -5.01, 5.25, -4.83, 4.9, -4.71, 4.63, -4.61, 4.52, -4.52, 4.36, -4.39, 4.09, -4.33, 3.79, -4.26, 3.64, -4.18, 3.63, -4.11, 3.41, -4.03, 3.19, -3.92, 2.92, -3.87, 2.89, -3.82, 2.7, -3.7, 2.41, -3.65, 2.43, -3.63, 2.33, -3.55, 2.33, -3.54, 2.14],
  [-4.84, 4.73, -4.71, 4.56, -4.55, 4.41, -4.39, 4.09, -4.3, 3.87, -4.23, 3.79, -4.14, 3.79, -4.05, 3.65, -3.95, 3.25, -3.84, 3.03, -3.76, 2.92, -3.67, 2.65, -3.54, 2.41, -3.44, 2.16, -3.35, 1.84, -3.26, 1.62, -3.19, 1.38, -3.08, 1.19, -3.06, 1.02],
  [-4.47, 4.25, -4.39, 4.11, -4.23, 3.9, -4.05, 3.68, -3.85, 3.3, -3.73, 2.92, -3.63, 2.68, -3.51, 2.6, -3.4, 2.27, -3.16, 1.86, -3.03, 1.59, -2.91, 1.19, -2.81, 0.97, -2.72, 0.62, -2.64, 0.41, -2.61, 0.4, -2.59, 0.05],
  [-4.11, 4.18, -3.81, 3.82, -3.63, 3.52, -3.41, 3.06, -3.28, 2.7, -3.16, 2.51, -3, 2.22, -2.89, 1.84, -2.83, 1.84, -2.72, 1.51, -2.62, 1.27, -2.53, 1.08, -2.42, 0.81, -2.31, 0.48, -2.23, 0.29, -2.17, 0.01],
];

const colorSteps = [WHITE, PINK, MID, STRONG, TOP];
const colorTicks = [2, 4, 6, 8];
const colorRow = [{ name: 'wind', a: 2, b: 2, c: 2, d: 2, e: 2 }];

const ROW = 486;
const BLUE_LINE = '#14508c';
const TAN = '#d6ba9a';
const GREEN = '#48ea48';

const pairs = (a: number[]) => {
  const out: { x: number; y: number }[] = [];
  for (let i = 0; i < a.length; i += 2) out.push({ x: a[i], y: a[i + 1] });
  return out;
};
const west = (a: number[]) => pairs(a).map((p) => ({ x: -p.x, y: p.y }));
const powers = (a: number[]) => pairs(a).map((p) => ({ x: 10 ** p.x, y: 10 ** p.y }));

// curve through the read points, so contours and blobs do not shrink like a basis spline
const throughPoints = (closed: boolean) => (ctx: any) => {
  let pts: number[][] = [];
  return {
    areaStart() {},
    areaEnd() {},
    lineStart() { pts = []; },
    point(x: number, y: number) { pts.push([x, y]); },
    lineEnd() {
      const n = pts.length;
      if (!n) return;
      const at = (i: number) => (closed ? pts[(i + n) % n] : pts[Math.max(0, Math.min(n - 1, i))]);
      ctx.moveTo(pts[0][0], pts[0][1]);
      const segs = closed ? n : n - 1;
      for (let i = 0; i < segs; i++) {
        const [p0, p1, p2, p3] = [at(i - 1), at(i), at(i + 1), at(i + 2)];
        const k = 0.15;
        ctx.bezierCurveTo(p1[0] + (p2[0] - p0[0]) * k, p1[1] + (p2[1] - p0[1]) * k, p2[0] - (p3[0] - p1[0]) * k, p2[1] - (p3[1] - p1[1]) * k, p2[0], p2[1]);
      }
      if (closed) ctx.closePath();
    },
  };
};
const smoothOpen = throughPoints(false);
const smoothClosed = throughPoints(true);

function Txt({ x, y, rot = 0, size, color = '#222', weight, font, children }: any) {
  return (
    <div style={{ position: 'absolute', left: x, top: y, transform: `translate(-50%,-50%) rotate(${rot}deg)`, fontSize: size, color, fontWeight: weight, fontFamily: font, whiteSpace: 'nowrap', lineHeight: 1 }}>
      {children}
    </div>
  );
}

const plain = (data: any[], key: string, stroke: string, width: number, extra: any = {}) => (
  <Line key={key} data={data} dataKey="y" type="linear" stroke={stroke} strokeWidth={width} dot={false} activeDot={false} legendType="none" isAnimationActive={false} {...extra} />
);

function SkewPanel({ row, temp, dew, parcel }: any) {
  return (
    <div style={{ position: 'absolute', left: 0, top: row * ROW }}>
      <ComposedChart width={490} height={480} margin={{ top: 22, right: 10, bottom: 0, left: 0 }}>
        <XAxis dataKey="x" type="number" domain={[-10.05, 33.66]} ticks={tempTicks} interval={0} allowDataOverflow height={71} tickSize={10} tickMargin={15} stroke="#777" tick={{ fontSize: 18.3, fill: '#222' }} />
        <YAxis type="number" scale="log" domain={[300, 1050]} reversed ticks={pressureLevels} interval={0} allowDataOverflow width={108} tickSize={0} tickMargin={14} tickLine={false} stroke={TAN} tick={{ fontSize: 18.3, fill: '#222', dy: 1 }} />
        {plain(pairs(faintLine), 'faint', '#ecdccb', 1.2, { type: 'monotone' })}
        {pressureLevels.map((p) => plain([{ x: -10.05, y: p }, { x: 33.66, y: p }], `p${p}`, TAN, 1.3))}
        {isotherms.map((a, i) => plain(pairs(a), `iso${i}`, TAN, 1.2))}
        {dryAdiabats.map((a, i) => plain(pairs(a), `dry${i}`, TAN, 1.2))}
        {mixingRatios.map((a, i) => plain(pairs(a), `mix${i}`, GREEN, 1.2, { strokeDasharray: '3 4' }))}
        {moistAdiabats.map((a, i) => plain(pairs(a), `moist${i}`, GREEN, 1.2, { type: 'natural' }))}
        {plain(pairs(parcel), 'parcel', '#f08a8a', 1.2, { strokeDasharray: '9 5' })}
        {plain(pairs(dew), 'dew', '#4169e1', 1.3)}
        {plain(pairs(temp), 'temp', '#222', 1.2)}
        {mixingLabels.map(([name, t]: any) => (
          <ReferenceDot key={name} x={t} y={1025} r={0} ifOverflow="visible"
            shape={(p: any) => <text x={p.cx} y={p.cy} textAnchor="middle" dominantBaseline="middle" fontSize={14} fill="#3fe03f" transform={`rotate(-62 ${p.cx} ${p.cy})`}>{name}</text>} />
        ))}
      </ComposedChart>
    </div>
  );
}

const outTick = (side: string, major: number[], labelled: boolean) => (p: any) => {
  const v = p.payload.value;
  const big = major.includes(v);
  const len = big ? 11 : 7;
  const stroke = big ? '#666' : '#888';
  if (side === 'bottom' || side === 'top') {
    const dir = side === 'bottom' ? 1 : -1;
    return (
      <g>
        <line x1={p.x} x2={p.x} y1={p.y} y2={p.y + dir * len} stroke={stroke} />
        {labelled && big && <text x={p.x} y={p.y + 38} textAnchor="middle" fontSize={18.3} fill="#222">{v.toFixed(1)}</text>}
      </g>
    );
  }
  const dir = side === 'right' ? 1 : -1;
  return (
    <g>
      <line x1={p.x} x2={p.x + dir * len} y1={p.y} y2={p.y} stroke={stroke} />
      {labelled && big && <text x={p.x - 24} y={p.y + 7} textAnchor="end" fontSize={18.3} fill="#222">{v.toFixed(1)}</text>}
    </g>
  );
};

function MapPanel({ row, base, layers, lines, loops, labels }: any) {
  const fills: any[] = [];
  layers.forEach(([color, polys]: any, i: number) => {
    polys.forEach((a: number[], j: number) => {
      fills.push(plain(west(a), `f${i}-${j}`, 'none', 0, { type: smoothClosed, style: { fill: color } }));
    });
  });
  return (
    <div style={{ position: 'absolute', left: 490, top: row * ROW }}>
      <ComposedChart width={500} height={480} margin={{ top: 0, right: 0, bottom: 0, left: 0 }}>
        <XAxis dataKey="x" type="number" domain={[-93.7, -79.63]} ticks={lonTicks} interval={0} allowDataOverflow height={60} tickSize={0} tickMargin={0} tickLine={false} stroke="#777" tick={outTick('bottom', lonMajor, true)} />
        <XAxis xAxisId="top" dataKey="x" orientation="top" type="number" domain={[-93.7, -79.63]} ticks={lonTicks} interval={0} height={12.7} tickSize={0} tickMargin={0} tickLine={false} stroke="#777" tick={outTick('top', lonMajor, false)} />
        <YAxis type="number" domain={[28.9, 40.44]} ticks={latTicks} interval={0} allowDataOverflow width={75.7} tickSize={0} tickMargin={0} tickLine={false} stroke="#777" tick={outTick('left', latMajor, true)} />
        <YAxis yAxisId="right" orientation="right" type="number" domain={[28.9, 40.44]} ticks={latTicks} interval={0} width={16.3} tickSize={0} tickMargin={0} tickLine={false} stroke="#777" tick={outTick('right', latMajor, false)} />
        {plain(west(mapExtent), 'base', 'none', 0, { type: 'linearClosed', style: { fill: base } })}
        {fills}
        {nestBoxes.map((a, i) => plain(west(a), `nest${i}`, '#777', 1, { type: 'linearClosed' }))}
        {lines.map((a: number[], i: number) => plain(west(a), `c${i}`, BLUE_LINE, 2.7, { type: smoothOpen }))}
        {loops.map((a: number[], i: number) => plain(west(a), `l${i}`, BLUE_LINE, 2.7, { type: smoothClosed }))}
        {plain(west([93, 30, 80, 40]), 'anchor', 'none', 0, { xAxisId: 'top', yAxisId: 'right' })}
        {labels.map(([name, lon, lat]: any) => (
          <ReferenceDot key={name} x={-lon} y={lat} r={0} ifOverflow="visible"
            shape={(p: any) => <text x={p.cx} y={p.cy} textAnchor="middle" dominantBaseline="central" fontSize={15.5} fontWeight="bold" fontFamily="DejaVu Sans" fill={BLUE_LINE}>{name}</text>} />
        ))}
      </ComposedChart>
    </div>
  );
}

const inTick = (side: string, major: number[], labelled: boolean, names?: string[]) => (p: any) => {
  const v = p.payload.value;
  const big = major.includes(v);
  const stroke = '#888';
  const exp = Math.round(Math.log10(v));
  if (side === 'bottom' || side === 'top') {
    const dir = side === 'bottom' ? -1 : 1;
    const len = big ? 11.5 : side === 'bottom' ? 5 : 6;
    return (
      <g>
        <line x1={p.x} x2={p.x} y1={p.y} y2={p.y + dir * len} stroke={stroke} strokeWidth={1.2} />
        {labelled && big && (
          <text x={p.x} y={p.y + 28} textAnchor="middle" fontSize={16} fill="#222">10<tspan fontSize={10.5} dy={-7}>{exp}</tspan></text>
        )}
        {names && big && <text x={p.x} y={p.y - 12.7} textAnchor="middle" fontSize={16.5} fill="#222">{names[major.indexOf(v)]}</text>}
      </g>
    );
  }
  const dir = side === 'left' ? 1 : -1;
  const len = big ? 11.5 : 7;
  return (
    <g>
      <line x1={p.x} x2={p.x + dir * len} y1={p.y} y2={p.y} stroke={stroke} strokeWidth={1.2} />
      {labelled && big && (
        <text x={p.x - 12} y={p.y + 8} textAnchor="end" fontSize={16} fill="#222">10<tspan fontSize={10.5} dy={-7}>{exp}</tspan></text>
      )}
    </g>
  );
};

function SpectrumPanel({ row, series }: any) {
  const wave: [number, number] = [3.16e-6, 1e-2];
  const energy: [number, number] = [1, 1e6];
  return (
    <div style={{ position: 'absolute', left: 990, top: row * ROW }}>
      <ComposedChart width={472} height={480} margin={{ top: 0, right: 0, bottom: 0, left: 0 }}>
        <XAxis dataKey="x" type="number" scale="log" domain={wave} ticks={waveTicks} interval={0} allowDataOverflow height={71} tickSize={0} tickMargin={0} tickLine={false} stroke="#888" tick={inTick('bottom', waveMajor, true)} />
        <XAxis xAxisId="top" dataKey="x" orientation="top" type="number" scale="log" domain={wave} ticks={[...kmTicks, ...kmMinor]} interval={0} height={40} tickSize={0} tickMargin={0} tickLine={false} stroke="#888" tick={inTick('top', kmTicks, false, kmNames)} />
        <YAxis type="number" scale="log" domain={energy} ticks={energyTicks} interval={0} allowDataOverflow width={72.7} tickSize={0} tickMargin={0} tickLine={false} stroke="#888" tick={inTick('left', energyMajor, true)} />
        <YAxis yAxisId="right" orientation="right" type="number" scale="log" domain={energy} ticks={energyTicks} interval={0} width={29.7} tickSize={0} tickMargin={0} tickLine={false} stroke="#888" tick={inTick('right', energyMajor, false)} />
        {plain(powers(refSlope), 'ref', '#222', 1.2, { strokeDasharray: '2 3.5' })}
        {series.map((a: number[], i: number) => plain(powers(a), `d${i}`, '#111', 2.4))}
        {plain(powers(refSlope), 'anchor', 'none', 0, { xAxisId: 'top', yAxisId: 'right' })}
        {domainNames.map(([name, k, e]: any) => (
          <ReferenceDot key={name} x={10 ** k} y={10 ** e} r={0} ifOverflow="visible"
            shape={(p: any) => <text x={p.cx} y={p.cy} textAnchor="middle" dominantBaseline="central" fontSize={16} fill="#222">{name}</text>} />
        ))}
      </ComposedChart>
    </div>
  );
}

function ColorBar() {
  const keys = ['a', 'b', 'c', 'd', 'e'];
  return (
    <div style={{ position: 'absolute', left: 550, top: 1440 }}>
      <ComposedChart layout="vertical" width={420} height={75} data={colorRow} barCategoryGap={0} margin={{ top: 11, right: 13, bottom: 0, left: 20 }}>
        <XAxis type="number" domain={[0, 10]} ticks={colorTicks} interval={0} height={29} axisLine={false} tickLine={false} tickSize={0} tickMargin={12} tick={{ fontSize: 17.5, fill: '#222' }} />
        <YAxis type="category" dataKey="name" hide />
        {keys.map((k, i) => <Bar key={k} dataKey={k} stackId="s" fill={colorSteps[i]} isAnimationActive={false} legendType="none" />)}
      </ComposedChart>
    </div>
  );
}

const dates = ['06JUL', '10JUN', '23JUL'];
const dateY = [235, 698, 1167];

export default function App() {
  return (
    <div style={{ position: 'absolute', left: 0, top: 0, width: 1462, height: 1515, background: '#fff', fontFamily: '"Liberation Sans", Arial, sans-serif', overflow: 'hidden' }}>
      <SkewPanel row={0} temp={jul06Temp} dew={jul06Dew} parcel={jul06Parcel} />
      <SkewPanel row={1} temp={jun10Temp} dew={jun10Dew} parcel={jun10Parcel} />
      <SkewPanel row={2} temp={jul23Temp} dew={jul23Dew} parcel={jul23Parcel} />

      <MapPanel row={0} base={PINK} layers={[[WHITE, jul06White], [PINK, jul06Pink], [MID, jul06Mid]]} lines={jul06Lines} loops={jul06Loops} labels={jul06Labels} />
      <MapPanel row={1} base={PINK} layers={[[MID, jun10MidBand], [PINK, jun10PinkOnMid], [WHITE, jun10White], [PINK, jun10PinkOnWhite], [MID, jun10Mid], [STRONG, jun10Strong]]} lines={jun10Lines} loops={[]} labels={jun10Labels} />
      <MapPanel row={2} base={WHITE} layers={[[PINK, jul23Pink], [WHITE, jul23White], [MID, jul23Mid], [STRONG, jul23Strong], [TOP, jul23Top]]} lines={jul23Lines} loops={jul23Loops} labels={jul23Labels} />

      <SpectrumPanel row={0} series={jul06Spectra} />
      <SpectrumPanel row={1} series={jun10Spectra} />
      <SpectrumPanel row={2} series={jul23Spectra} />

      <ColorBar />
      <Txt x={927} y={1504} size={15}>m s<sup style={{ fontSize: 9 }}>-1</sup></Txt>

      {dates.map((d, i) => (
        <React.Fragment key={d}>
          <Txt x={23} y={dateY[i]} rot={-90} size={29} weight="bold" font="DejaVu Sans" color="#000">{d}</Txt>
          <Txt x={53} y={225 + i * ROW} rot={-90} size={16} color="#444">Pressure (hPa)</Txt>
          <Txt x={280} y={468 + i * ROW} size={16} color="#444">Temperature (°C)</Txt>
          <Txt x={1247.5} y={461 + i * ROW} size={21}>Wavenumber (radian m<sup style={{ fontSize: 13 }}>-1</sup>)</Txt>
          <Txt x={1005} y={226 + i * ROW} rot={-90} size={21}>Energy spectrum (m<sup style={{ fontSize: 13 }}>3</sup> s<sup style={{ fontSize: 13 }}>-2</sup>)</Txt>
        </React.Fragment>
      ))}
    </div>
  );
}
